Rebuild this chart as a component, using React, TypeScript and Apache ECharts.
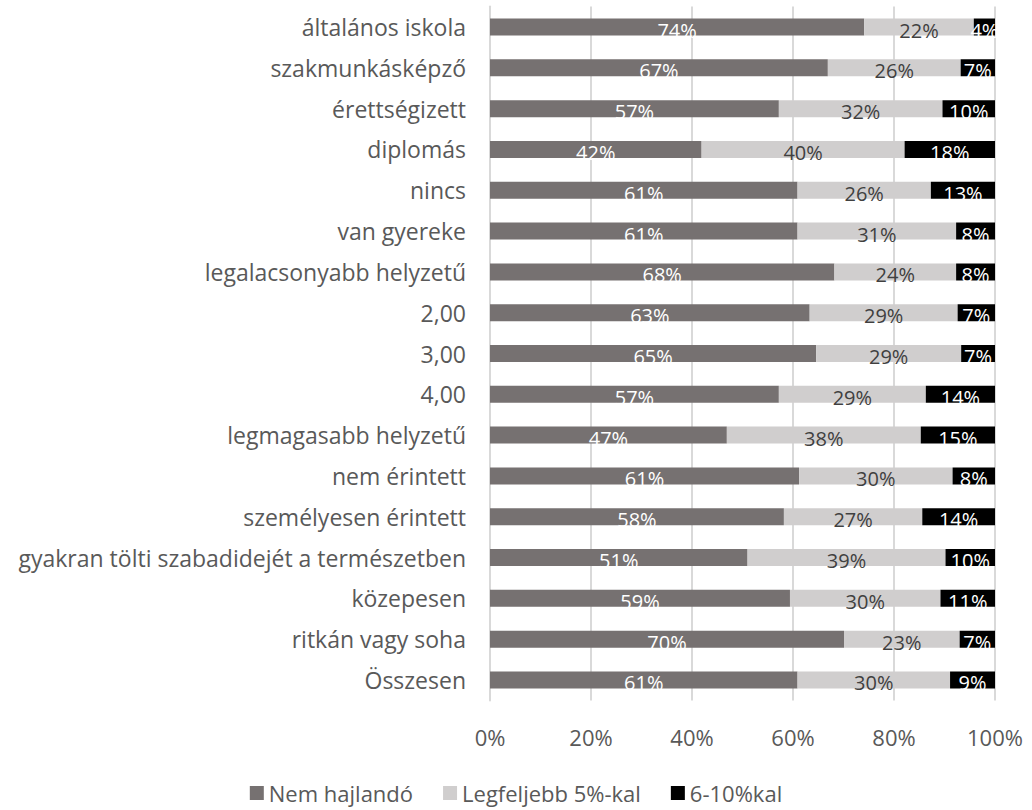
import React, { useEffect, useRef } from "react";
import * as echarts from "echarts";

const categories = [
  "általános iskola",
  "szakmunkásképző",
  "érettségizett",
  "diplomás",
  "nincs",
  "van gyereke",
  "legalacsonyabb helyzetű",
  "2,00",
  "3,00",
  "4,00",
  "legmagasabb helyzetű",
  "nem érintett",
  "személyesen érintett",
  "gyakran tölti szabadidejét a természetben",
  "közepesen",
  "ritkán vagy soha",
  "Összesen",
];

const nemHajlando = [74.1, 66.9, 57.2, 41.9, 60.9, 60.9, 68.2, 63.3, 64.6, 57.2, 46.9, 61.2, 58.2, 51.0, 59.4, 70.1, 60.9];
const legfeljebb5 = [21.7, 26.3, 32.4, 40.2, 26.4, 31.4, 24.1, 29.3, 28.7, 29.1, 38.4, 30.4, 27.4, 39.2, 29.8, 22.9, 30.2];
const hat10 = [4.2, 6.8, 10.4, 17.9, 12.7, 7.7, 7.7, 7.4, 6.7, 13.7, 14.7, 8.4, 14.4, 9.8, 10.8, 7.0, 8.9];

const seriesNames = ["Nem hajlandó", "Legfeljebb 5%-kal", "6-10%kal"];
const xTicks = [0, 20, 40, 60, 80, 100];

const FONT = "'Open Sans', sans-serif";

export default function App() {
  const ref = useRef<HTMLDivElement>(null);
  useEffect(() => {
    if (!ref.current) return;
    const chart = echarts.init(ref.current, undefined, { renderer: "svg" });
    const mkLabel = (color: string) => ({
      show: true,
      position: "inside" as const,
      color,
      fontSize: 20,
      fontFamily: FONT,
      offset: [0, 3],
      formatter: (p: any) => Math.round(p.value) + "%",
    });
    const datasets = [nemHajlando, legfeljebb5, hat10];
    const colors = ["#767171", "#D0CECE", "#000000"];
    const labelColors = ["#ffffff", "#404040", "#ffffff"];
    chart.setOption({
      animation: false,
      textStyle: { fontFamily: FONT },
      grid: { left: 490, right: 37, top: 6.6, bottom: 109.6, containLabel: false },
      legend: {
        bottom: 1,
        left: "center",
        itemWidth: 14,
        itemHeight: 14,
        itemGap: 30,
        icon: "rect",
        textStyle: { fontSize: 22, color: "#595959", fontFamily: FONT },
        data: seriesNames,
      },
      xAxis: {
        type: "value",
        min: 0,
        max: 100,
        interval: 20,
        axisLine: { show: false },
        axisTick: { show: false },
        splitLine: { show: true, lineStyle: { color: "#d9d9d9", width: 2 } },
        axisLabel: {
          margin: 26,
          fontSize: 22,
          color: "#595959",
          fontFamily: FONT,
          formatter: (v: number) => (xTicks.includes(v) ? v + "%" : ""),
        },
      },
      yAxis: {
        type: "category",
        inverse: true,
        data: categories,
        axisLine: { show: true, lineStyle: { color: "#d9d9d9", width: 2 } },
        axisTick: { show: false },
        axisLabel: { margin: 24, fontSize: 23, color: "#595959", fontFamily: FONT },
      },
      series: datasets.map((d, i) => ({
        name: seriesNames[i],
        type: "bar",
        stack: "total",
        barWidth: 17,
        data: d,
        itemStyle: { color: colors[i] },
        label: mkLabel(labelColors[i]),
      })),
    });
    return () => chart.dispose();
  }, []);
  return (
    <div
      ref={ref}
      style={{ position: "absolute", left: 0, top: 0, width: 1032, height: 810 }}
    />
  );
}
